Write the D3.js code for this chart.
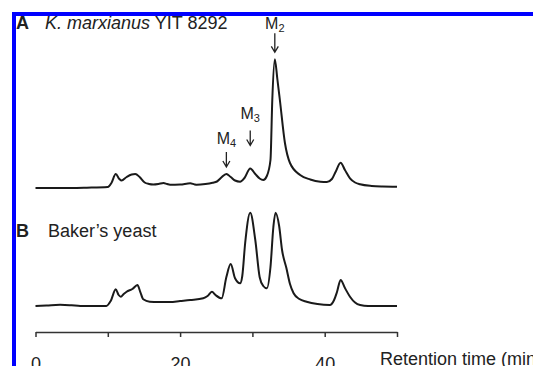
<!DOCTYPE html>
<html>
<head>
<meta charset="utf-8">
<script src="https://cdn.jsdelivr.net/npm/d3@7"></script>
<style>
  body { margin: 0; background: #fff; }
  svg { display: block; font-family: "Liberation Sans", Arial, sans-serif; }
</style>
</head>
<body>
<div id="chart"></div>
<script>
// chromatogram A: K. marxianus YIT 8292 (retention time min, detector signal)
const traceA = [
  [0,0],[5,0],[7.1,0.3],[10.0,1],[10.5,5],[11.1,14],[11.6,9],[11.9,7.5],[12.6,11],[13.3,13.5],
  [13.8,14],[14.4,11],[15.1,5.5],[15.7,4],[16.3,3.5],[17.0,4],[17.7,5],[18.2,4],[18.6,3.3],[20,3.5],
  [21.4,4.7],[22.0,3.6],[22.3,3.3],[23.5,4],[24.5,5.3],[25.1,6.5],[25.7,10.5],[26.4,14],[27.0,11],
  [27.6,7.5],[28.3,6.3],[28.9,10],[29.7,19.5],[30.4,14],[31.0,9.5],[31.5,8],[32.0,12],[32.5,28],
  [32.75,88],[33.1,128.7],[33.45,109],[33.8,88],[34.5,45],[35.2,25],[36.6,13],[38,8.5],[39.4,6.3],
  [40.3,6],[41.0,9],[41.5,16],[42.2,25.3],[42.8,18],[43.5,9.7],[44.2,5.5],[44.9,3.7],[46.5,2],
  [48,1.5],[50,1.3]
]

// chromatogram B: Baker's yeast
const traceB = [
  [0,0],[1.5,0.5],[3.4,1.3],[5,0.7],[6.2,0],[8,0],[9.8,0],[10.4,5],[11.1,16.7],[11.5,11],
  [11.8,9.3],[12.2,12],[12.6,14.3],[13.4,17],[14.1,21],[14.5,14],[14.9,6.7],[15.8,4.3],[17,4],
  [18.6,4],[20,5],[21.4,6],[23.2,7.7],[23.8,10],[24.4,14.3],[24.9,11],[25.75,7.7],[26.4,29],
  [27.0,42],[27.6,27.7],[28.3,22.7],[28.6,30],[29.0,63],[29.7,93.3],[30.4,66],[31.0,29],[31.5,20],
  [32.0,17.7],[32.5,39],[32.9,79],[33.2,93.3],[33.7,80],[34.1,56],[34.7,38],[35.2,22],[35.7,12.7],
  [36.5,7],[37.5,4.3],[39,2],[40.7,1],[41.3,6],[41.7,14],[42.2,26],[42.8,18],[43.5,9.3],
  [44.2,3.5],[44.9,1],[46,0],[50,0]
]

const tickValues = [0, 10, 20, 30, 40, 50]
const tickLabels = {0: "0", 20: "20", 40: "40"}

// peak annotations on trace A
const peakNames = ["M", "M", "M"]
const peakSubs = ["2", "3", "4"]
const peakTimes = [33.1, 29.7, 26.4]

const width = 533
const height = 366

const svg = d3.select("#chart").append("svg")
    .attr("width", width)
    .attr("height", height)

const x = d3.scaleLinear().domain([0, 50]).range([35.5, 397])
const yA = d3.scaleLinear().domain([0, 130]).range([188, 58])
const yB = d3.scaleLinear().domain([0, 130]).range([306, 176])

const line = y => d3.line()
    .curve(d3.curveMonotoneX)
    .x(d => x(d[0]))
    .y(d => y(d[1]))

svg.append("path")
    .datum(traceA)
    .attr("fill", "none")
    .attr("stroke", "#1a1a1a")
    .attr("stroke-width", 2)
    .attr("stroke-linejoin", "round")
    .attr("d", line(yA))

svg.append("path")
    .datum(traceB)
    .attr("fill", "none")
    .attr("stroke", "#1a1a1a")
    .attr("stroke-width", 2)
    .attr("stroke-linejoin", "round")
    .attr("d", line(yB))

// x axis
const xAx = d3.axisBottom(x)
    .tickValues(tickValues)
    .tickSize(5)
    .tickSizeOuter(0)
    .tickFormat(d => tickLabels[d] || "")

const xGroup = svg.append("g")
    .attr("transform", "translate(0,332)")
    .call(xAx)

xGroup.select(".domain").attr("stroke", "#333").attr("stroke-width", 1.5)
xGroup.selectAll(".tick line").attr("stroke", "#333").attr("stroke-width", 1.5)
xGroup.selectAll(".tick text")
    .attr("y", 38)
    .attr("dy", 0)
    .attr("fill", "#222")
    .style("font-size", "18px")
    .style("font-family", "'Liberation Sans', Arial, sans-serif")

svg.append("text")
    .attr("x", 380)
    .attr("y", 365)
    .attr("fill", "#222")
    .style("font-size", "18px")
    .text("Retention time (min)")

// panel titles
const titleA = svg.append("text")
    .attr("x", 16)
    .attr("y", 29)
    .attr("fill", "#222")
    .style("font-size", "18px")
titleA.append("tspan").attr("font-weight", "bold").text("A")
titleA.append("tspan").attr("x", 45).attr("font-style", "italic").text("K. marxianus")
titleA.append("tspan").text(" YIT 8292")

const titleB = svg.append("text")
    .attr("x", 16)
    .attr("y", 237)
    .attr("fill", "#222")
    .style("font-size", "18px")
titleB.append("tspan").attr("font-weight", "bold").text("B")
titleB.append("tspan").attr("x", 48).text("Baker\u2019s yeast")

// peak arrows and labels
const arrowGap = [7, 23, 7]
const arrowLen = [19, 15, 15]
const labelGap = [4, 12, 8]
peakTimes.forEach((t, i) => {
    const peak = traceA.find(d => d[0] === t)
    const px = x(t)
    const tip = yA(peak[1]) - arrowGap[i]
    const top = tip - arrowLen[i]
    svg.append("path")
        .attr("d", `M${px},${top}V${tip}M${px - 3.5},${tip - 6}L${px},${tip}L${px + 3.5},${tip - 6}`)
        .attr("fill", "none")
        .attr("stroke", "#222")
        .attr("stroke-width", 1.3)
    const lab = svg.append("text")
        .attr("x", px)
        .attr("y", top - labelGap[i])
        .attr("text-anchor", "middle")
        .attr("fill", "#222")
        .style("font-size", "16px")
    lab.append("tspan").text(peakNames[i])
    lab.append("tspan").attr("dy", 3).style("font-size", "11px").text(peakSubs[i])
})

// blue frame
svg.append("rect").attr("x", 12).attr("y", 12).attr("width", width - 12).attr("height", 4).attr("fill", "#0000ff")
svg.append("rect").attr("x", 12).attr("y", 12).attr("width", 4).attr("height", height - 12).attr("fill", "#0000ff")
</script>
</body>
</html>
